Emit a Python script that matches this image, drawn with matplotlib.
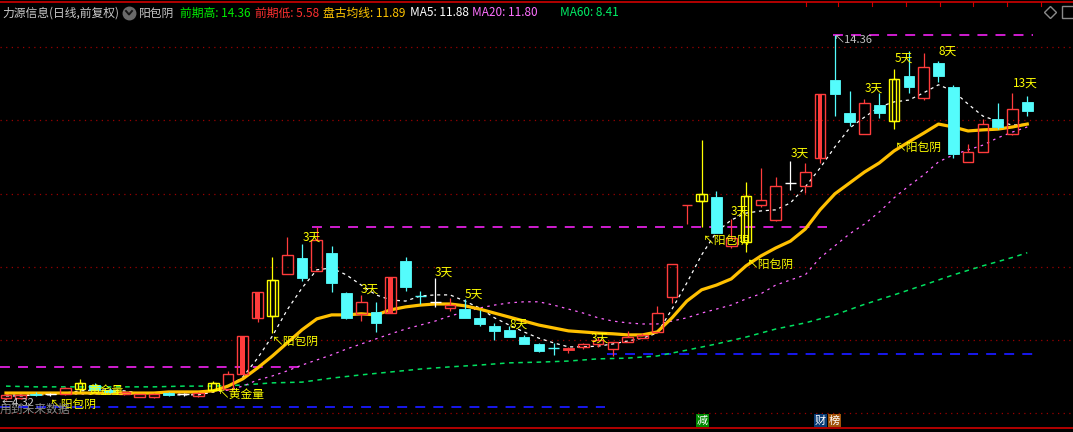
"""力源信息 daily K-line with 阳包阴 markers, recreated with matplotlib."""

import matplotlib
matplotlib.use("Agg")
import matplotlib.pyplot as plt
from matplotlib.patches import Rectangle
from matplotlib.transforms import blended_transform_factory

plt.rcParams['font.family'] = ['Noto Sans CJK SC', 'DejaVu Sans']

# --- candles (one per trading day) -------------------------------------------
opens = [4.37, 4.38, 4.49, 4.48, 4.49, 4.63, 4.73, 4.60, 4.49, 4.41,
         4.41, 4.50, 4.47, 4.43, 4.59, 4.62, 5.03, 6.58, 6.63, 7.79,
         8.23, 7.87, 8.36, 7.26, 6.69, 6.74, 6.71, 8.14, 7.18, 7.02,
         6.85, 6.82, 6.58, 6.36, 6.25, 6.05, 5.86, 5.75, 5.69, 5.78,
         5.86, 5.72, 5.91, 6.02, 6.19, 7.15, 9.68, 9.79, 9.90, 8.56,
         8.67, 9.68, 9.27, 10.29, 10.21, 10.98, 13.12, 12.21, 11.64, 12.43,
         11.99, 13.23, 12.63, 13.59, 12.93, 10.87, 11.14, 12.05, 11.64, 12.52]
highs = [4.48, 4.49, 4.53, 4.52, 4.68, 4.90, 4.78, 4.65, 4.57, 4.49,
         4.50, 4.53, 4.51, 4.53, 4.84, 5.12, 6.08, 7.29, 8.25, 8.80,
         8.61, 9.08, 8.56, 7.29, 7.21, 7.02, 7.70, 8.25, 7.32, 7.68,
         7.13, 7.10, 6.80, 6.44, 6.36, 6.11, 5.89, 5.89, 5.78, 5.89,
         6.05, 5.91, 6.22, 6.16, 6.91, 8.06, 9.68, 11.47, 10.07, 9.30,
         10.32, 10.70, 10.45, 10.89, 10.84, 12.74, 14.36, 12.82, 12.60, 12.77,
         13.43, 13.92, 13.87, 13.65, 12.99, 11.36, 12.05, 12.49, 12.77, 12.68]
lows = [4.32, 4.35, 4.42, 4.44, 4.46, 4.54, 4.58, 4.50, 4.46, 4.39,
        4.38, 4.43, 4.44, 4.41, 4.54, 4.60, 5.03, 6.46, 6.16, 7.79,
        7.59, 7.87, 7.29, 6.55, 6.49, 6.19, 6.71, 7.32, 6.96, 6.88,
        6.77, 6.58, 6.36, 5.97, 6.05, 5.86, 5.64, 5.56, 5.61, 5.72,
        5.78, 5.53, 5.91, 6.02, 6.19, 6.99, 9.16, 9.08, 8.91, 8.50,
        8.39, 9.63, 9.24, 10.10, 10.01, 10.84, 12.13, 11.86, 11.64, 12.08,
        11.77, 12.77, 12.57, 13.07, 10.98, 10.87, 11.14, 11.77, 11.61, 12.13]
closes = [4.46, 4.46, 4.45, 4.48, 4.65, 4.79, 4.60, 4.53, 4.54, 4.48,
          4.48, 4.46, 4.47, 4.51, 4.79, 5.03, 6.08, 7.29, 7.62, 8.31,
          7.68, 8.72, 7.54, 6.58, 7.02, 6.44, 7.70, 7.43, 7.18, 7.02,
          6.93, 6.58, 6.41, 6.22, 6.05, 5.86, 5.67, 5.75, 5.75, 5.86,
          5.97, 5.91, 6.05, 6.11, 6.71, 8.06, 9.68, 9.99, 8.91, 8.78,
          9.93, 9.82, 10.21, 10.29, 10.59, 12.74, 12.74, 11.97, 12.49, 12.21,
          13.15, 12.93, 13.48, 13.23, 11.09, 11.14, 11.91, 11.83, 12.32, 12.27]
# r = up (hollow red), c = down (cyan), y = 阳包阴 highlight, R = big up,
# w = white doji, f = small filled red
kinds = ("rrcwryccrr" "rcwryrRRyr" "crccrcRccw" "rcccccccfr"
         "rrrrrrrycr" "yrrwrRccrc" "ycrccrrcrc")

# --- indicator lines -----------------------------------------------------------
pangu = [4.51, 4.51, 4.51, 4.51, 4.51, 4.51, 4.51, 4.51, 4.51, 4.51,
         4.51, 4.54, 4.54, 4.54, 4.57, 4.70, 4.90, 5.20, 5.53, 5.89,
         6.25, 6.55, 6.66, 6.66, 6.69, 6.66, 6.80, 6.88, 6.93, 6.96,
         6.96, 6.91, 6.82, 6.71, 6.60, 6.49, 6.38, 6.30, 6.22, 6.19,
         6.16, 6.14, 6.11, 6.11, 6.19, 6.58, 7.04, 7.35, 7.48, 7.65,
         8.01, 8.28, 8.50, 8.69, 9.02, 9.55, 9.99, 10.29, 10.59, 10.84,
         11.17, 11.42, 11.66, 11.91, 11.83, 11.72, 11.75, 11.77, 11.83, 11.91]
ma5 = [4.43, 4.43, 4.46, 4.46, 4.51, 4.57, 4.59, 4.59, 4.57, 4.51,
       4.48, 4.46, 4.46, 4.46, 4.54, 4.68, 4.95, 5.47, 6.08, 6.80,
       7.40, 7.90, 7.95, 7.76, 7.48, 7.21, 7.07, 7.04, 7.18, 7.21,
       7.21, 7.04, 6.85, 6.58, 6.38, 6.19, 6.02, 5.89, 5.78, 5.78,
       5.80, 5.86, 5.94, 6.02, 6.16, 6.82, 7.54, 8.31, 8.94, 9.27,
       9.46, 9.52, 9.55, 9.74, 10.18, 10.70, 11.28, 11.80, 12.10, 12.38,
       12.52, 12.57, 12.77, 12.99, 12.82, 12.46, 12.13, 11.99, 11.88, 11.91]
ma20 = [4.48, 4.48, 4.48, 4.48, 4.48, 4.48, 4.48, 4.48, 4.48, 4.48,
        4.48, 4.48, 4.48, 4.48, 4.54, 4.59, 4.70, 4.87, 4.98, 5.12,
        5.28, 5.42, 5.56, 5.72, 5.86, 6.00, 6.14, 6.27, 6.38, 6.49,
        6.63, 6.74, 6.85, 6.93, 6.99, 7.02, 7.02, 6.93, 6.82, 6.71,
        6.58, 6.49, 6.44, 6.41, 6.41, 6.49, 6.58, 6.71, 6.82, 6.93,
        7.10, 7.24, 7.48, 7.62, 7.76, 8.23, 8.56, 8.89, 9.16, 9.49,
        9.88, 10.21, 10.51, 10.87, 11.06, 11.20, 11.33, 11.53, 11.69, 11.83]
ma60_days = [0, 2, 4, 6, 8, 10, 12, 14, 16, 18, 20, 22, 24, 26, 28, 30, 32, 34,
             36, 38, 40, 42, 44, 46, 48, 50, 52, 54, 56, 58, 60, 62, 64, 66, 68, 69]
ma60 = [4.70, 4.68, 4.68, 4.68, 4.68, 4.68, 4.70, 4.70, 4.73, 4.79, 4.81, 4.92,
        5.01, 5.09, 5.17, 5.23, 5.28, 5.34, 5.36, 5.39, 5.45, 5.47, 5.53, 5.69,
        5.86, 6.05, 6.27, 6.44, 6.66, 6.95, 7.21, 7.48, 7.76, 8.01, 8.24, 8.37]

# --- horizontal price levels (前期高 / 前期低 segments) ----------------------
level_price = [14.36, 9.08, 5.23, 5.58, 4.13]
level_from = [55.9, 20.7, -0.4, 40.6, -0.4]
level_to = [69.4, 55.5, 20.3, 69.4, 40.5]
level_kind = ["high", "high", "high", "low", "low"]

# --- pattern labels: text, day, price ---------------------------------------
day_labels = [("3天", 20.68, 8.80), ("3天", 24.6, 7.37), ("3天", 29.6, 7.84),
              ("5天", 31.6, 7.24), ("8天", 34.66, 6.41), ("3天", 40.1, 6.02),
              ("3天", 49.6, 9.52), ("3天", 53.65, 11.11), ("3天", 58.65, 12.90),
              ("5天", 60.68, 13.73), ("8天", 63.65, 13.92), ("13天", 68.85, 13.04)]
arrow_labels = [("↖阳包阴", 17.97, 5.92), ("↖阳包阴", 47.1, 8.72),
                ("↖阳包阴", 50.07, 8.06), ("↖阳包阴", 60.07, 11.28),
                ("↖阳包阴", 2.97, 4.21), ("↖黄金量", 14.32, 4.46),
                ("黄金量", 5.54, 4.59)]

header = [("力源信息(日线,前复权)", 2, "#c8c8c8"), ("阳包阴", 139, "#c8c8c8"),
          ("前期高: 14.36", 180, "#00ee00"), ("前期低: 5.58", 255, "#ff3030"),
          ("盘古均线: 11.89", 323, "#ffc400"), ("MA5: 11.88", 410, "#ffffff"),
          ("MA20: 11.80", 472, "#ff70ff"), ("MA60: 8.41", 560, "#00ee66")]

RED = "#ff3c3c"
CYAN = "#54fcfc"
YELLOW = "#ffff00"
COLORS = {"r": RED, "R": RED, "f": RED, "c": CYAN, "y": YELLOW, "w": "#ffffff"}

W_PX, H_PX = 1073, 432

fig = plt.figure(figsize=(W_PX / 100, H_PX / 100), dpi=100, facecolor="black")
ax = fig.add_axes([0, 0, 1, 1])
ax.set_facecolor("black")
ax.set_xlim(-0.405, 72.09)
ax.set_ylim(3.438, 15.323)
ax.axis("off")

deco = fig.add_axes([0, 0, 1, 1], facecolor="none")
deco.set_xlim(0, W_PX)
deco.set_ylim(H_PX, 0)
deco.axis("off")

# dotted grid rows (screen positions)
grid_tr = blended_transform_factory(ax.transAxes, deco.transData)
for gy in [47, 120, 194, 267, 340, 413]:
    ax.plot([0, 1], [gy, gy], transform=grid_tr, color="#9a0000",
            lw=0.9, ls=(0, (1, 3.5)), zorder=0)

# price levels
for p, a, b, k in zip(level_price, level_from, level_to, level_kind):
    ax.hlines(p, a, b, color="#e020e0" if k == "high" else "#1a1aff",
              lw=1.3, linestyles=(0, (5.5, 4.5)), zorder=1)

days = list(range(len(closes)))
ax.plot(ma60_days, ma60, color="#00e060", lw=1.1, ls=(0, (3, 3)), zorder=2)
ax.plot(days, ma20, color="#ff66ff", lw=0.9, ls=(0, (2, 3.5)), zorder=2)
ax.plot(days, ma5, color="#ffffff", lw=0.9, ls=(0, (2.5, 3)), zorder=2)
ax.plot(days, pangu, color="#ffc000", lw=2.3, zorder=3)

# candles
w = 0.72
for i, (o, h, l, c, k) in enumerate(zip(opens, highs, lows, closes, kinds)):
    col = COLORS[k]
    top, bot = max(o, c), min(o, c)
    ax.vlines(i, top, h, color=col, lw=0.9, zorder=4)
    ax.vlines(i, l, bot, color=col, lw=0.9, zorder=4)
    if top - bot < 0.03:
        ax.hlines(o, i - w / 2, i + w / 2, color=col, lw=1.0, zorder=4)
    elif k in "cf":
        ax.bar(i, top - bot, w, bot, color=col, lw=0.6, edgecolor=col, zorder=4)
    else:
        ax.bar(i, top - bot, w, bot, facecolor="none", edgecolor=col,
               lw=1.0, zorder=4)
        if k == "R":
            ax.bar(i, top - bot, w * 0.45, bot, color=col, lw=0, zorder=4)
        elif k == "y":
            ax.bar(i, top - bot, w * 0.45, bot, facecolor="none",
                   edgecolor=col, lw=1.0, zorder=4)

for txt, d, p in day_labels:
    ax.text(d, p, txt, color=YELLOW, fontsize=8.5, ha="center", va="center",
            zorder=6)
for txt, d, p in arrow_labels:
    ax.text(d, p, txt, color=YELLOW, fontsize=8.5, ha="left", va="center",
            zorder=6)
ax.text(55.9, 14.22, "↖14.36", color="#c0c0c0", fontsize=8, ha="left",
        va="center", zorder=6)
ax.text(-0.27, 4.24, "←4.32", color="#d0d0d0", fontsize=8, ha="left",
        va="center", zorder=6)

# frame lines and header
deco.axhline(2, color="#d00000", lw=1.2)
for tx in [806, 838, 872, 906, 940, 973, 1007, 1041]:
    deco.plot([tx, tx], [2, 6], color="#d00000", lw=0.8)
deco.axhline(428, color="#d00000", lw=1.2)

for txt, x, col in header:
    deco.text(x, 13, txt, color=col, fontsize=8.5, ha="left", va="center")
deco.plot(129, 12.5, "o", ms=9, color="#6a6a6a")
deco.plot([126, 129, 132], [11, 14.5, 11], color="#151515", lw=1.4)
deco.plot(1050, 12, "D", ms=6.5, mfc="none", mec="#8a8a8a", mew=1.0)
deco.plot(1068, 12, "s", ms=8, mfc="none", mec="#8a8a8a", mew=1.0)

deco.text(0, 409, "用到未来数据", color="#8c8c8c", fontsize=8.5, ha="left",
          va="center")

for x0, ch, fc in [(696, "减", "#008a00"), (814, "财", "#0a3d78"),
                   (828, "榜", "#a0520a")]:
    deco.add_patch(Rectangle((x0, 414), 13, 13, facecolor=fc, edgecolor="none"))
    deco.text(x0 + 6.5, 420.5, ch, color="white", fontsize=8, ha="center",
              va="center")

fig.savefig("out.png", dpi=100, facecolor="black")
